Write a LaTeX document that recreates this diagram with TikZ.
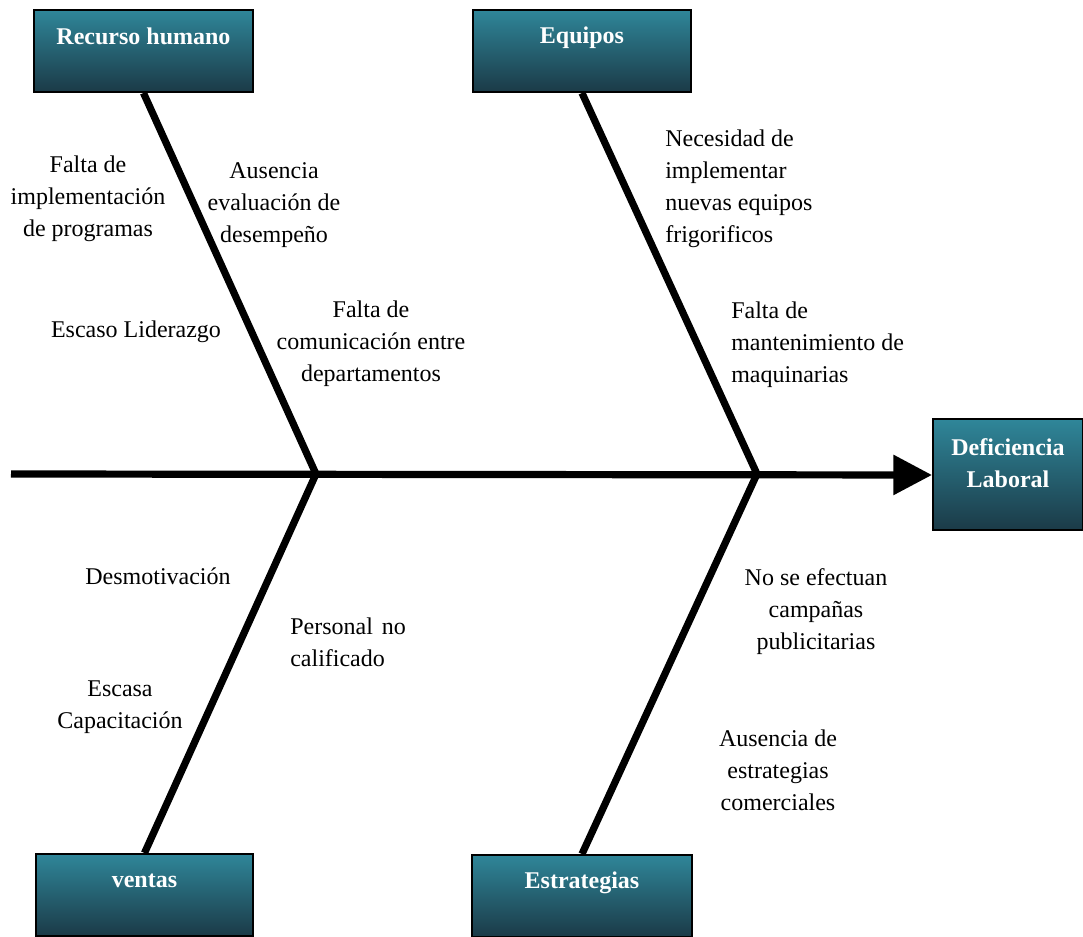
\documentclass[tikz,border=0pt]{standalone}
\usepackage{fontspec}
\setmainfont{Liberation Serif}
\usetikzlibrary{arrows.meta}

\definecolor{boxtop}{RGB}{47,134,153}
\definecolor{boxmid}{RGB}{40,108,125}
\definecolor{boxbot}{RGB}{27,58,71}

\tikzset{
  catbox/.style={rectangle, draw=black, line width=1.5pt, anchor=north west,
    top color=boxtop, middle color=boxmid, bottom color=boxbot, inner sep=0pt},
  cattext/.style={text=white, font=\fontsize{18}{24}\selectfont\bfseries,
    align=center, inner sep=0pt},
  bone/.style={line width=5.4pt},
  cause/.style={font=\fontsize{18}{24}\selectfont, align=center, inner sep=0pt, anchor=north},
  causeL/.style={font=\fontsize{18}{24}\selectfont, align=left, inner sep=0pt, anchor=north west},
}

\begin{document}
\begin{tikzpicture}[x=0.75pt, y=-0.75pt]
  \useasboundingbox (0,0) rectangle (1083,937);

  % category boxes
  \node[catbox, minimum width=164.25pt, minimum height=61.5pt] (rh) at (33,9) {};
  \node[catbox, minimum width=163.5pt, minimum height=61.5pt] (eq) at (472,9) {};
  \node[catbox, minimum width=162.75pt, minimum height=61.5pt] (ve) at (35,853) {};
  \node[catbox, minimum width=165pt, minimum height=61.5pt] (es) at (471,854) {};
  \node[catbox, minimum width=112.5pt, minimum height=83.25pt] (df) at (932,418.5) {};

  \node[cattext] (rhT) at ([yshift=11pt]rh.center) {Recurso humano};
  \node[cattext] (eqT) at ([yshift=10pt]eq.center) {Equipos};
  \node[cattext] (veT) at ([yshift=10.5pt]ve.center) {ventas};
  \node[cattext] (esT) at ([yshift=10pt]es.center) {Estrategias};
  \node[cattext] (dfT) at ([yshift=8.5pt]df.center) {Deficiencia\\Laboral};

  % spine and junctions
  \coordinate (tail) at (11,474);
  \coordinate (j1) at (316,474);
  \coordinate (j2) at (757,474);
  \draw[bone, -{Triangle[length=29pt, width=29pt]}] (tail) -- (df.west);

  % bones
  \draw[bone] (rh.south) -- (j1);
  \draw[bone] (eq.south) -- (j2);
  \draw[bone] (ve.north) -- (j1);
  \draw[bone] (es.north) -- (j2);

  % causes
  \node[cause] (c1) at (88,156) {Falta de\\implementación\\de programas};
  \node[cause] (c2) at (274,162) {Ausencia\\evaluación de\\desempeño};
  \node[cause] (c3) at (136,321) {Escaso Liderazgo};
  \node[cause] (c4) at (371,301) {Falta de\\comunicación entre\\departamentos};
  \node[causeL] (c5) at (665,130) {Necesidad de\\implementar\\nuevas equipos\\frigorificos};
  \node[causeL] (c6) at (731,302) {Falta de\\mantenimiento de\\maquinarias};
  \node[cause] (c7) at (158,568) {Desmotivación};
  \node[causeL] (c8) at (290,618) {Personal\hspace{6.75pt}no\\calificado};
  \node[cause] (c9) at (120,681) {Escasa\\Capacitación};
  \node[cause] (c10) at (816,568) {No se efectuan\\campañas\\publicitarias};
  \node[cause] (c11) at (778,730) {Ausencia de\\estrategias\\comerciales};
\end{tikzpicture}
\end{document}
